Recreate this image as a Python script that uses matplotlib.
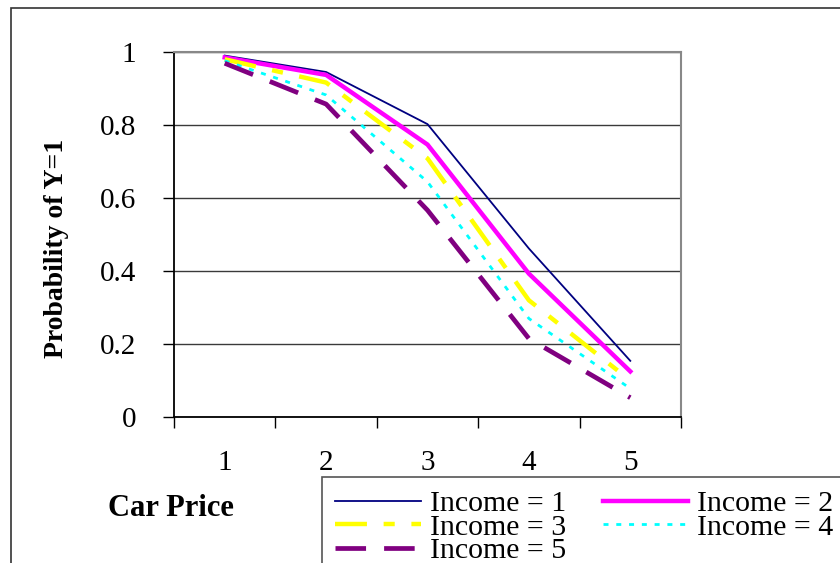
import matplotlib
matplotlib.use("Agg")
import matplotlib.pyplot as plt
from matplotlib.patches import Rectangle

plt.rcParams['font.family'] = ['Liberation Serif', 'DejaVu Serif']
plt.rcParams['lines.scale_dashes'] = False

car_price = [1, 2, 3, 4, 5]
income_1 = [0.991, 0.946, 0.803, 0.462, 0.154]
income_2 = [0.986, 0.938, 0.747, 0.393, 0.125]
income_3 = [0.981, 0.917, 0.709, 0.320, 0.100]
income_4 = [0.977, 0.883, 0.645, 0.270, 0.078]
income_5 = [0.970, 0.858, 0.567, 0.215, 0.053]
labels = ["Income = 1", "Income = 2", "Income = 3", "Income = 4", "Income = 5"]
y_ticks = [0, 0.2, 0.4, 0.6, 0.8, 1]
y_tick_labels = ["0", "0.2", "0.4", "0.6", "0.8", "1"]

W, H = 840, 563
fig = plt.figure(figsize=(W / 100, H / 100), dpi=100)
ax = fig.add_axes([174 / W, 1 - 417 / H, (681 - 174) / W, (417 - 52.3) / H])

series = [income_1, income_2, income_3, income_4, income_5]
styles = [
    dict(color="#000080", lw=1.3, ls="-"),
    dict(color="#FF00FF", lw=3.2, ls="-"),
    dict(color="#FFFF00", lw=3.2, ls=(0, (23, 12, 8, 12))),
    dict(color="#00FFFF", lw=2.0, ls=(0, (3.6, 5.6))),
    dict(color="#800080", lw=3.4, ls=(0, (22, 13))),
]
handles = []
for vals, st, lab in zip(series, styles, labels):
    h, = ax.plot(car_price, vals, color=st["color"], lw=st["lw"], linestyle=st["ls"],
                 label=lab, dash_capstyle="butt", solid_joinstyle="miter")
    handles.append(h)

ax.set_xlim(0.5, 5.5)
ax.set_ylim(0, 1)
ax.set_yticks(y_ticks)
ax.set_yticklabels(y_tick_labels, fontsize=21)
ax.tick_params(axis="y", direction="out", length=8, width=1.0, pad=19, color="black")

# category boundaries as major ticks, labels at category centres
ax.set_xticks([0.5, 1.5, 2.5, 3.5, 4.5, 5.5])
ax.set_xticklabels([])
ax.set_xticks(car_price, minor=True)
ax.set_xticklabels([str(c) for c in car_price], minor=True, fontsize=21)
ax.tick_params(axis="x", which="major", direction="out", length=8, width=1.0, color="black")
ax.tick_params(axis="x", which="minor", length=0, pad=24)

ax.grid(axis="y", color="#3a3a3a", lw=1.0)
ax.set_axisbelow(True)
for s in ["left", "bottom"]:
    ax.spines[s].set_color("black")
    ax.spines[s].set_linewidth(1.3)
for s in ["top", "right"]:
    ax.spines[s].set_color("#888888")
    ax.spines[s].set_linewidth(1.5)

fig.text(57 / W, 1 - 248 / H, "Probability of Y=1", rotation=90, ha="center", va="center",
         fontsize=20, fontweight="bold")
fig.text(171 / W, 1 - 508 / H, "Car Price", ha="center", va="center",
         fontsize=22, fontweight="bold")

# outer chart border
fig.patches.append(Rectangle((11 / W, -0.1), 1.2, 1 - 8 / H + 0.1, transform=fig.transFigure,
                             fill=False, edgecolor="#333333", lw=1.2))

order = [0, 2, 4, 1, 3]
leg = fig.legend([handles[i] for i in order], [labels[i] for i in order], ncol=2,
                 loc="upper left", bbox_to_anchor=(322 / W, 1 - 477 / H),
                 bbox_transform=fig.transFigure, borderaxespad=0, fontsize=21.5,
                 frameon=True, fancybox=False, framealpha=1, edgecolor="#555555",
                 handlelength=2.85, handletextpad=0.3, columnspacing=1.25,
                 labelspacing=-0.12, borderpad=0.45)
leg.get_frame().set_linewidth(1.2)

fig.savefig("out.png", dpi=100)
